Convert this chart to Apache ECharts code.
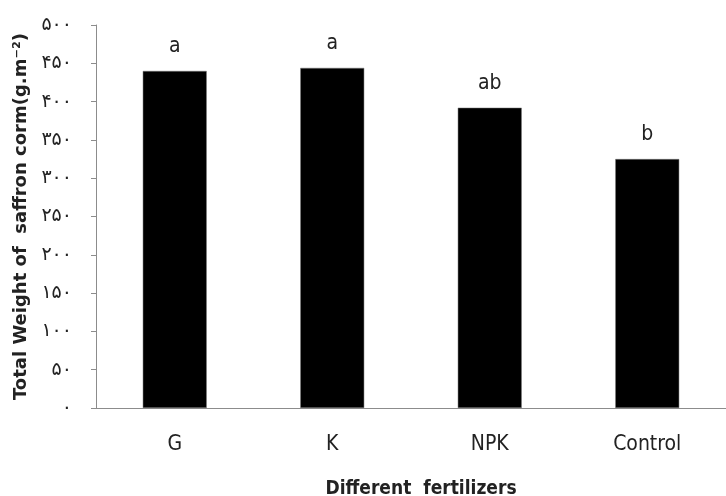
<!DOCTYPE html>
<html><head><meta charset="utf-8">
<script src="https://cdn.jsdelivr.net/npm/echarts@6/dist/echarts.min.js"></script>
<style>html,body{margin:0;padding:0;background:#fff}#c{width:726px;height:496px}</style>
</head><body><div id="c"></div>
<script>
const categories = ['G', 'K', 'NPK', 'Control'];
const values = [440, 444, 392, 325];
const letters = ['a', 'a', 'ab', 'b'];
const yTickValues = [0, 50, 100, 150, 200, 250, 300, 350, 400, 450, 500];
const yTickLabels = ['۰', '۵۰', '۱۰۰', '۱۵۰', '۲۰۰', '۲۵۰', '۳۰۰', '۳۵۰', '۴۰۰', '۴۵۰', '۵۰۰'];

const chart = echarts.init(document.getElementById('c'));
chart.setOption({
  animation: false,
  grid: { left: 96, right: 0, top: 25, bottom: 88, containLabel: false, outerBoundsMode: 'none' },
  xAxis: {
    type: 'category',
    data: categories,
    axisLine: { lineStyle: { color: '#8c8c8c', width: 1 } },
    axisTick: { show: false },
    axisLabel: { margin: 26, fontSize: 21, color: '#222', fontFamily: 'DejaVu Sans Condensed' },
    name: 'Different  fertilizers',
    nameLocation: 'middle',
    nameGap: 72,
    nameTextStyle: { fontSize: 19, fontWeight: 'bold', color: '#222', fontFamily: 'DejaVu Sans Condensed', padding: [0, 0, 0, 20] }
  },
  yAxis: {
    type: 'value',
    min: 0, max: 500, interval: 50,
    axisLine: { show: true, lineStyle: { color: '#8c8c8c', width: 1 } },
    axisTick: { show: true, length: 5, lineStyle: { color: '#8c8c8c' } },
    splitLine: { show: false },
    axisLabel: {
      margin: 24, fontSize: 19, color: '#222', fontFamily: 'DejaVu Sans',
      formatter: v => yTickLabels[yTickValues.indexOf(v)]
    },
    name: 'Total Weight of  saffron corm(g.m⁻²)',
    nameLocation: 'middle',
    nameGap: 64,
    nameTextStyle: { fontSize: 18, fontWeight: 'bold', color: '#222', fontFamily: 'DejaVu Sans' }
  },
  series: [{
    type: 'bar',
    data: values,
    barWidth: '40.6%',
    itemStyle: { color: '#000', borderColor: '#777', borderWidth: 0.5 },
    label: {
      show: true, position: 'top', distance: 14,
      formatter: p => letters[p.dataIndex],
      fontSize: 21, color: '#222', fontFamily: 'DejaVu Sans Condensed'
    }
  }]
});
</script></body></html>
